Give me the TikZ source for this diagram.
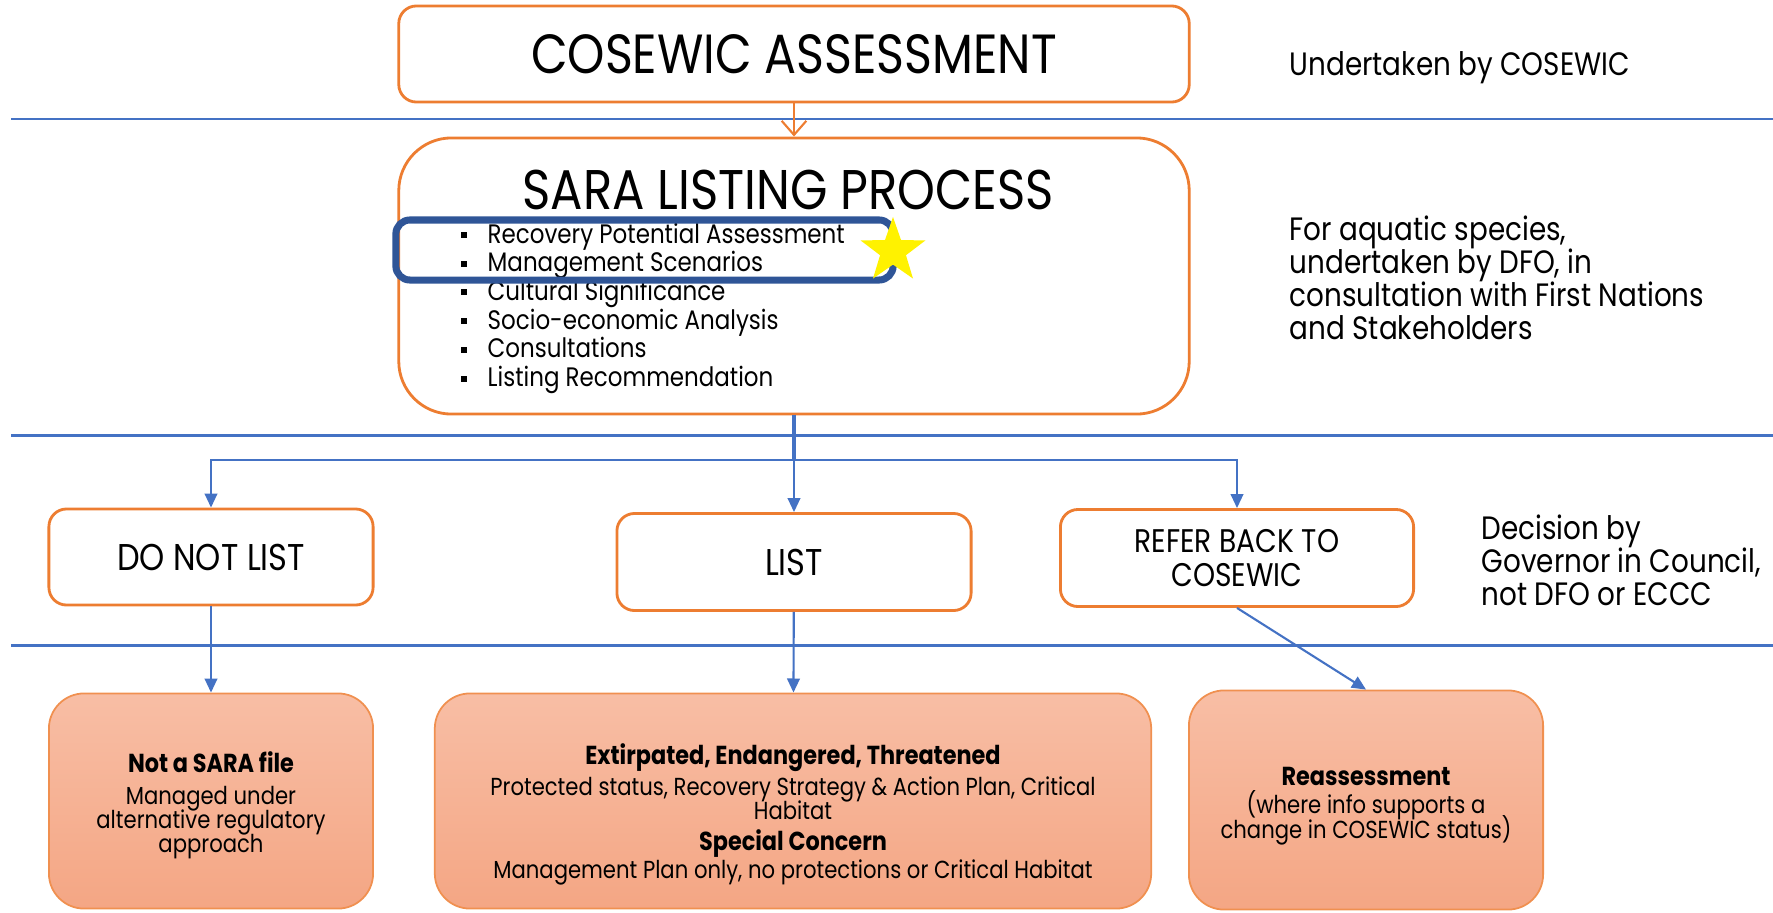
\documentclass[tikz,border=0pt]{standalone}
\usepackage{fontspec}
\setmainfont[FakeStretch=0.86]{Poppins}
\usetikzlibrary{shapes.geometric,arrows.meta}
% keep the baselines as given, even for tall letters
\lineskiplimit=-\maxdimen

\definecolor{boxorange}{HTML}{ED7D31}
\definecolor{linkblue}{HTML}{4472C4}
\definecolor{markblue}{HTML}{2F5597}
\definecolor{salmontop}{HTML}{F8BEA5}
\definecolor{salmonbot}{HTML}{F4A684}

\tikzset{
  stage/.style={draw=boxorange, line width=0.8pt, fill=white, rounded corners=5pt,
    inner sep=0pt, align=center},
  outcome/.style={draw=boxorange!85, line width=0.5pt, top color=salmontop,
    bottom color=salmonbot, rounded corners=10pt, inner sep=0pt},
  outnote/.style={align=center, inner sep=0pt, font=\fontsize{7}{6.8}\selectfont},
  flow/.style={draw=linkblue, line width=0.6pt, -{Triangle[length=4pt,width=3.6pt]}},
  sepline/.style={linkblue, line width=0.85pt},
  note/.style={anchor=west, align=left, inner sep=0pt, font=\fontsize{9.2}{9.4}\selectfont}
}
\newcommand\headline[1]{{\fontsize{7.4}{8}\selectfont\bfseries #1}}

\begin{document}
\begin{tikzpicture}[x=0.01cm, y=-0.01cm]
\useasboundingbox (0,0) rectangle (1773,912);
% one unit = one pixel, y runs downwards

% band separators
\foreach \y in {119,435,645}
	\draw [sepline] (11,\y) -- (1773,\y);

% assessment and listing
\node [stage, minimum width=7.9cm, minimum height=0.96cm,
	font=\fontsize{15.7}{18}\selectfont] (cosewic) at (794,54) {COSEWIC ASSESSMENT};
\node [stage, minimum width=7.9cm, minimum height=2.76cm, rounded corners=15pt] (sara) at (794,276) {};
\node [anchor=base, inner sep=0pt, font=\fontsize{15.9}{18}\selectfont] (saratitle)
	at (788,209) {SARA LISTING PROCESS};
\foreach \txt [count=\i] in {Recovery Potential Assessment, Management Scenarios,
		Cultural Significance, Socio-economic Analysis, Consultations, Listing Recommendation}{
	\node [anchor=base west, inner sep=0pt, font=\fontsize{7.6}{8}\selectfont] (item\i)
		at (487,243+28.7*\i-28.7) {\txt};
	\fill (item\i.base west) ++(-26,-11) rectangle ++(6,6);
}
\node [draw=markblue, line width=2pt, rounded corners=4pt, inner sep=0pt,
	minimum width=4.97cm, minimum height=0.6cm] (focus) at (644.5,250) {};
\node [star, star points=5, star point ratio=2.5, fill=yellow, inner sep=0pt,
	minimum size=0.68cm] (starmark) at (893,251) {};

% decision
\node [stage, minimum width=3.24cm, minimum height=0.96cm,
	font=\fontsize{10.6}{11}\selectfont] (nolist) at (211,557) {DO NOT LIST};
\node [stage, minimum width=3.54cm, minimum height=0.97cm,
	font=\fontsize{10.6}{11}\selectfont] (list) at (794,562) {LIST};
\node [stage, minimum width=3.53cm, minimum height=0.97cm,
	font=\fontsize{9.3}{9.7}\selectfont] (refer) at (1237,558) {REFER BACK TO\\COSEWIC};

% outcomes
\node [outcome, minimum width=3.24cm, minimum height=2.15cm] (notsara) at (211,801) {};
\node [outcome, minimum width=7.16cm, minimum height=2.15cm] (extirp) at (793,801) {};
\node [outcome, minimum width=3.54cm, minimum height=2.19cm] (reass) at (1366,800) {};

\node [outnote] (notsaranote) at (211,805.5)
	{\headline{Not a SARA file}\\[2.2pt]Managed under\\alternative regulatory\\approach};
\node [outnote] (extirpnote) at (793,814.5)
	{\headline{Extirpated, Endangered, Threatened}\\[2pt]
	Protected status, Recovery Strategy \& Action Plan, Critical\\Habitat\\[2.2pt]
	\headline{Special Concern}\\[1.2pt]
	Management Plan only, no protections or Critical Habitat};
\node [outnote, font=\fontsize{7}{7.1}\selectfont] (reassnote) at (1366,806)
	{\headline{Reassessment}\\[0.7pt](where info supports a\\change in COSEWIC status)};

% who does what
\node [note] (bycosewic) at (1289,68) {Undertaken by COSEWIC};
\node [note] (bydfo) at (1289,278) {For aquatic species,\\undertaken by DFO, in\\consultation with First Nations\\and Stakeholders};
\node [note] (bygic) at (1481,560) {Decision by\\Governor in Council,\\not DFO or ECCC};

% connectors
\draw [boxorange, line width=0.6pt, -{Straight Barb[length=4pt,width=7pt]}] (cosewic) -- (sara);
\draw [linkblue, line width=1.4pt] (sara.south) -- (794,460) coordinate (split);
\draw [flow] (split) -| (nolist.north);
\draw [flow] (split) -- (list.north);
\draw [flow] (split) -| (refer.north);
\draw [flow] (nolist) -- (notsara);
\draw [flow] (list) -- (extirp);
\draw [flow] (refer.south) -- (reass.north);

\end{tikzpicture}
\end{document}
